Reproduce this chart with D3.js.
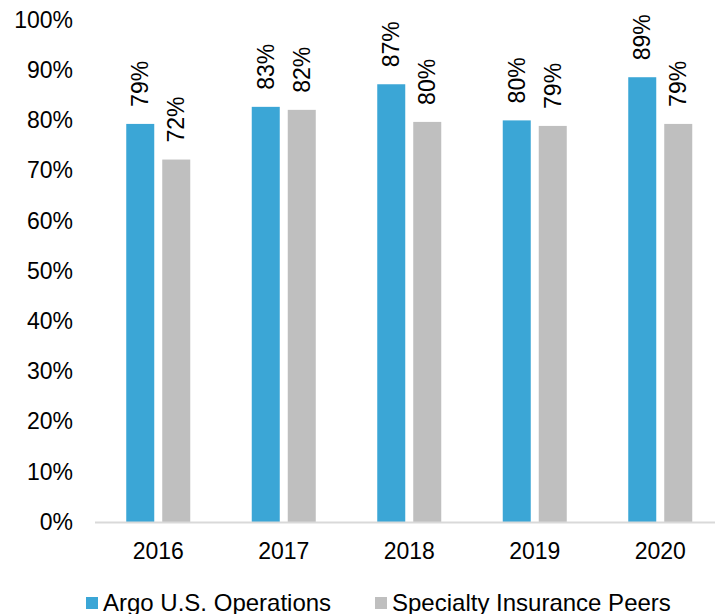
<!DOCTYPE html>
<html><head><meta charset="utf-8">
<script src="https://cdn.jsdelivr.net/npm/d3@7"></script>
<style>body{margin:0;background:#fff;}svg{display:block;font-family:Arial,"Liberation Sans",sans-serif;}</style>
</head><body>
<svg id="c" width="715" height="614"></svg>
<script>
const years = ["2016","2017","2018","2019","2020"];
const seriesNames = ["Argo U.S. Operations","Specialty Insurance Peers"];
const argo = [0.793, 0.827, 0.872, 0.800, 0.886];
const peers = [0.722, 0.821, 0.797, 0.789, 0.793];
const argoLabels = ["79%","83%","87%","80%","89%"];
const peerLabels = ["72%","82%","80%","79%","79%"];
const yTicks = [0,0.1,0.2,0.3,0.4,0.5,0.6,0.7,0.8,0.9,1.0];
const colors = ["#3BA6D6","#BFBFBF"];
const FS = "23px";

const svg = d3.select("#c");
const y = d3.scaleLinear().domain([0,1]).range([522,20]);
const x = d3.scaleBand().domain(years).range([95.5,723]).paddingInner(0).paddingOuter(0);
const x1 = d3.scaleBand().domain([0,1]).range([0,64]).paddingInner(8/36).paddingOuter(0);
const groupOff = (x.bandwidth()-64)/2;

// y tick labels
const yAxis = d3.axisLeft(y).tickValues(yTicks).tickFormat(d3.format(".0%")).tickSize(0).tickPadding(0);
const ga = svg.append("g").attr("transform","translate(73,0)").call(yAxis);
ga.select(".domain").remove();
ga.selectAll("text").attr("font-size",FS).attr("fill","#000").attr("font-family","Arial, 'Liberation Sans', sans-serif");

const data = [argo, peers];
const labels = [argoLabels, peerLabels];
data.forEach((vals,si)=>{
  const g = svg.append("g");
  g.selectAll("rect").data(vals).join("rect")
    .attr("x",(d,i)=>x(years[i])+groupOff+x1(si))
    .attr("y",d=>y(d))
    .attr("width",x1.bandwidth())
    .attr("height",d=>y(0)-y(d))
    .attr("fill",colors[si]);
  g.selectAll("text").data(vals).join("text")
    .attr("transform",(d,i)=>`translate(${x(years[i])+groupOff+x1(si)+x1.bandwidth()/2},${y(d)-17}) rotate(-90)`)
    .attr("dy","0.35em")
    .attr("font-size",FS)
    .attr("fill","#000")
    .text((d,i)=>labels[si][i]);
});

// x axis
const xAxis = d3.axisBottom(x).tickSize(0).tickPadding(0);
const gx = svg.append("g").attr("transform","translate(0,522)").call(xAxis);
gx.select(".domain").remove();
gx.selectAll("text").attr("font-size",FS).attr("fill","#000").attr("dy",null).attr("y",37)
  .attr("font-family","Arial, 'Liberation Sans', sans-serif");
svg.append("line").attr("x1",95).attr("x2",715).attr("y1",522.5).attr("y2",522.5)
  .attr("stroke","#D9D9D9").attr("stroke-width",2);

// legend
const legX = [86,375];
seriesNames.forEach((n,i)=>{
  svg.append("rect").attr("x",legX[i]).attr("y",597).attr("width",12).attr("height",12).attr("fill",colors[i]);
  svg.append("text").attr("x",legX[i]+17).attr("y",611).attr("font-size","24px").attr("fill","#000").text(n);
});
</script>
</body></html>
